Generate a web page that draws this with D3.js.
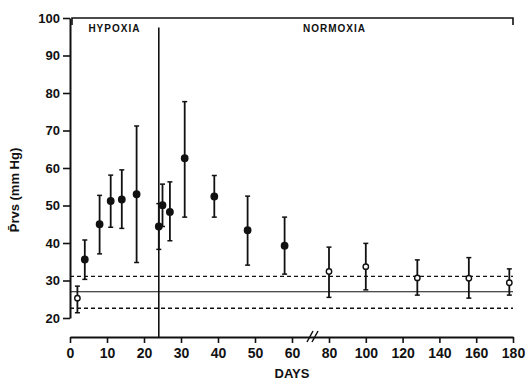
<!DOCTYPE html>
<html><head><meta charset="utf-8">
<script src="https://cdn.jsdelivr.net/npm/d3@7"></script>
<style>
html,body{margin:0;padding:0;background:#fff;}
svg text{font-family:"Liberation Sans",Arial,sans-serif;font-weight:bold;fill:#111;}
</style></head>
<body>
<svg id="c" width="528" height="384"></svg>
<script>
const days   = [2,4,8,11,14,18,24,25,27,31,39,48,58,80,100,128,156,178];
const means  = [25.3,35.6,45.0,51.2,51.6,53.0,44.4,50.1,48.3,62.6,52.4,43.4,39.3,32.4,33.7,30.7,30.6,29.4];
const upper  = [28.5,40.8,52.7,58.1,59.5,71.2,50.5,55.7,56.3,77.7,58.0,52.5,46.9,38.9,39.9,35.5,36.1,33.1];
const lower  = [21.4,30.3,37.1,44.2,43.9,34.8,38.3,44.4,40.6,46.9,46.9,34.1,31.7,25.5,27.5,26.1,25.3,26.1];
const marker = ["open","filled","filled","filled","filled","filled","filled","filled","filled","filled","filled","filled","filled","open","open","open","open","open"];
const controlMean = 27.0, controlUpper = 31.1, controlLower = 22.6;
const xTicks = [0,10,20,30,40,50,60,80,100,120,140,160,180];
const yTicks = [20,30,40,50,60,70,80,90,100];
const phaseBoundary = 24;
const phases = [{label:"HYPOXIA", at:12}, {label:"NORMOXIA", at:83}];

const svg = d3.select("#c");
const x = d3.scaleLinear().domain([0,60,80,180]).range([70,292,329,513]);
const y = d3.scaleLinear().domain([20,100]).range([318,18]);
const ink = "#111";

// Y axis
const ya = svg.append("g").attr("transform","translate(70,0)")
  .call(d3.axisLeft(y).tickValues(yTicks).tickSize(7).tickSizeOuter(0).tickPadding(3));
ya.select(".domain").attr("stroke",ink).attr("stroke-width",2);
ya.selectAll(".tick line").attr("stroke",ink).attr("stroke-width",1.6);
ya.selectAll(".tick text").attr("font-size",13).attr("fill",ink)
  .style("font-family","Liberation Sans").style("font-weight","bold");

// X axis
const xa = svg.append("g").attr("transform","translate(0,337)")
  .call(d3.axisBottom(x).tickValues(xTicks).tickSize(6).tickSizeOuter(0).tickPadding(5));
xa.select(".domain").attr("stroke",ink).attr("stroke-width",2);
xa.selectAll(".tick line").attr("stroke",ink).attr("stroke-width",1.6);
xa.selectAll(".tick text").attr("font-size",14).attr("fill",ink)
  .style("font-family","Liberation Sans").style("font-weight","bold");

// axis break marks
const bx = (x(60)+x(80))/2 + 2;
[-2.5,2.5].forEach(o=>{
  svg.append("line").attr("x1",bx+o-3).attr("y1",342).attr("x2",bx+o+3).attr("y2",331)
    .attr("stroke",ink).attr("stroke-width",1.5);
});

// top bracket
svg.append("path").attr("d",`M${x(0)+2},25V18H${x(180)}V25`)
  .attr("fill","none").attr("stroke",ink).attr("stroke-width",1.6);

// phase boundary
svg.append("line").attr("x1",x(phaseBoundary)).attr("x2",x(phaseBoundary))
  .attr("y1",y(97.5)).attr("y2",337).attr("stroke",ink).attr("stroke-width",1.6);

phases.forEach(p=>{
  svg.append("text").attr("x",x(p.at)).attr("y",32)
    .attr("text-anchor","middle").attr("font-size",10).attr("letter-spacing",1).text(p.label);
});

// control reference lines
svg.append("line").attr("x1",x(0)).attr("x2",x(180)).attr("y1",y(controlMean)).attr("y2",y(controlMean))
  .attr("stroke",ink).attr("stroke-width",1.1);
[controlUpper,controlLower].forEach(v=>{
  svg.append("line").attr("x1",x(0)).attr("x2",x(180)).attr("y1",y(v)).attr("y2",y(v))
    .attr("stroke",ink).attr("stroke-width",1.3).attr("stroke-dasharray","4,3");
});

// error bars
const g = svg.append("g");
days.forEach((d,i)=>{
  const cx = x(d);
  g.append("line").attr("x1",cx).attr("x2",cx).attr("y1",y(upper[i])).attr("y2",y(lower[i]))
    .attr("stroke",ink).attr("stroke-width",1.8);
  [upper[i],lower[i]].forEach(v=>{
    g.append("line").attr("x1",cx-2.5).attr("x2",cx+2.5).attr("y1",y(v)).attr("y2",y(v))
      .attr("stroke",ink).attr("stroke-width",1.5);
  });
});
days.forEach((d,i)=>{
  g.append("circle").attr("cx",x(d)).attr("cy",y(means[i])).attr("r",marker[i]==="open"?2.7:3.2)
    .attr("fill",marker[i]==="open"?"#fff":ink).attr("stroke",ink).attr("stroke-width",1.4);
});

// axis titles
svg.append("text").attr("transform","translate(19,190) rotate(-90)")
  .attr("text-anchor","middle").attr("font-size",13).text("P\u0304rvs (mm Hg)");
svg.append("text").attr("x",292).attr("y",378).attr("text-anchor","middle")
  .attr("font-size",13).text("DAYS");
</script>
</body></html>
